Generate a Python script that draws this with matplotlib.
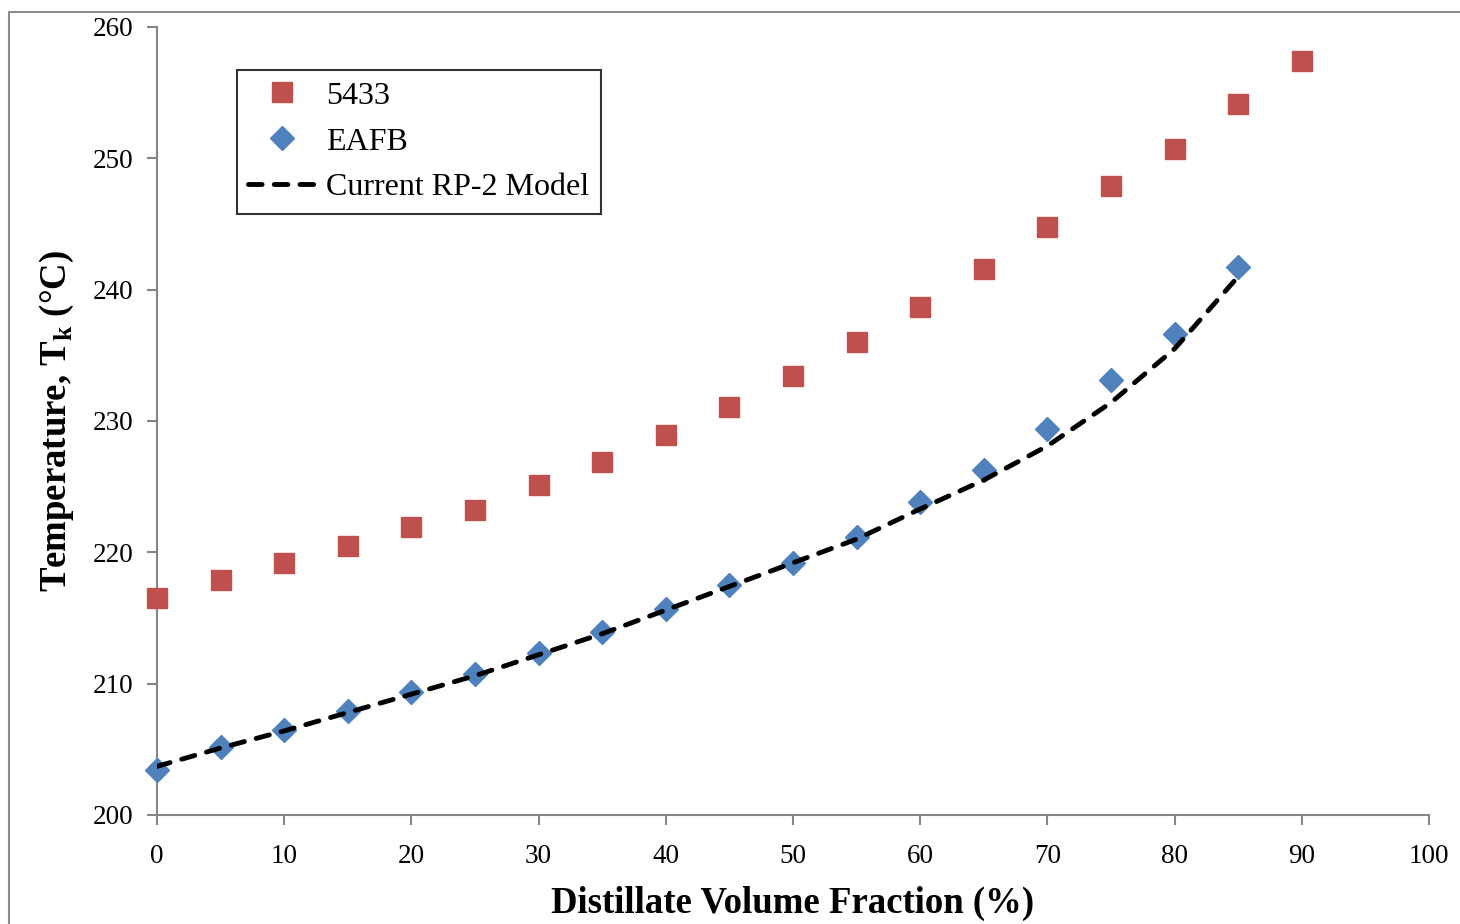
import matplotlib.pyplot as plt
from matplotlib.patches import Rectangle

# distillate volume fraction (%)
frac_5433 = [0, 5, 10, 15, 20, 25, 30, 35, 40, 45, 50, 55, 60, 65, 70, 75, 80, 85, 90]
temp_5433 = [216.5, 217.9, 219.2, 220.5, 221.9, 223.2, 225.1, 226.9, 228.9, 231.1,
             233.4, 236.0, 238.7, 241.6, 244.8, 247.9, 250.7, 254.1, 257.4]

frac_eafb = [0, 5, 10, 15, 20, 25, 30, 35, 40, 45, 50, 55, 60, 65, 70, 75, 80, 85]
temp_eafb = [203.4, 205.2, 206.5, 207.9, 209.4, 210.7, 212.3, 213.9, 215.7, 217.5,
             219.2, 221.2, 223.8, 226.3, 229.4, 233.1, 236.6, 241.7]

frac_model = [0, 5, 10, 15, 20, 25, 30, 35, 40, 45, 50, 55, 60, 65, 70, 75, 80, 85]
temp_model = [203.7, 205.1, 206.4, 207.8, 209.2, 210.6, 212.2, 213.8, 215.6, 217.4,
              219.2, 221.0, 223.3, 225.5, 228.1, 231.4, 235.5, 241.0]

plt.rcParams['font.family'] = ['Liberation Serif', 'DejaVu Serif']
plt.rcParams['mathtext.fontset'] = 'custom'
plt.rcParams['mathtext.rm'] = 'Liberation Serif'
plt.rcParams['mathtext.bf'] = 'Liberation Serif:bold'

fig = plt.figure(figsize=(14.6, 9.24), dpi=100)
ax = fig.add_axes([0.1075, 0.118, 0.8713, 0.8528])

# outer chart frame
fig.patches.append(Rectangle((9 / 1460, -0.01), 1.02, 1 - 12 / 924 + 0.01,
                             transform=fig.transFigure, fill=False,
                             edgecolor='#8c8c8c', linewidth=1.5))

ax.plot(frac_5433, temp_5433, linestyle='none', marker='s', markersize=14.5,
        color='#c0504d', label='5433', zorder=3, clip_on=False)
ax.plot(frac_eafb, temp_eafb, linestyle='none', marker='D', markersize=12,
        color='#4f81bd', label='EAFB', zorder=3, clip_on=False)
ax.plot(frac_model, temp_model, color='black', linewidth=3.5, dashes=(2.8, 2.5),
        dash_capstyle='round', label='Current RP-2 Model', zorder=4)

ax.set_xlim(0, 100)
ax.set_ylim(200, 260)
ax.set_xticks(range(0, 101, 10))
ax.set_yticks(range(200, 261, 10))

for side in ['top', 'right']:
    ax.spines[side].set_visible(False)
for side in ['left', 'bottom']:
    ax.spines[side].set_color('#868686')
    ax.spines[side].set_linewidth(1.5)
ax.tick_params(axis='both', direction='out', length=7, width=1.5, color='#868686',
               labelsize=19.5)
ax.tick_params(axis='x', pad=14)
ax.tick_params(axis='y', pad=10)

ax.set_xlabel('Distillate Volume Fraction (%)', fontsize=26.5, fontweight='bold', labelpad=12)
ax.set_ylabel('Temperature, T$_\\mathbf{k}$ (°C)', fontsize=26.5, fontweight='bold', labelpad=12)

leg = ax.legend(loc='upper left', bbox_to_anchor=(0.063, 0.9454), fontsize=23,
                frameon=True, fancybox=False, edgecolor='black', borderpad=0.35,
                handlelength=2.1, handletextpad=0.34, labelspacing=0.52, borderaxespad=0)
leg.get_frame().set_linewidth(1.5)

fig.savefig('out.png', dpi=100)
